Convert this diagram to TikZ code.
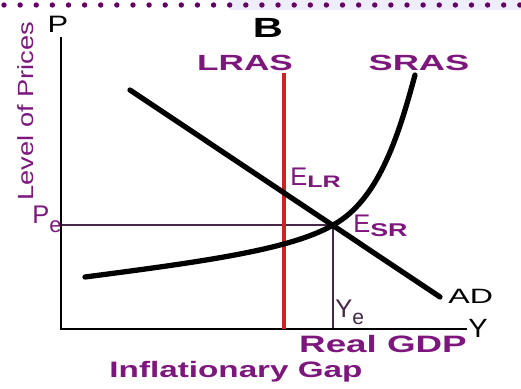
\documentclass[tikz,border=0pt]{standalone}
\usepackage{fontspec}
\setmainfont{Liberation Sans}
\usetikzlibrary{positioning,calc}
\definecolor{DotPurple}{RGB}{102,0,102}
\definecolor{LabelPurple}{RGB}{125,22,125}
\definecolor{GuideGray}{RGB}{70,40,70}
\definecolor{LrasRed}{RGB}{205,35,35}
\definecolor{BandLavender}{RGB}{238,238,250}

\begin{document}
\begin{tikzpicture}[x=0.02cm, y=-0.02cm,
    axis/.style={line width=1.7pt, black},
    curve/.style={line width=3pt, black, line cap=round},
    guide/.style={line width=0.8pt, GuideGray},
    lras/.style={line width=2.8pt, LrasRed},
    txt/.style={inner sep=0pt, anchor=base},
    tag/.style={txt, text=LabelPurple, font=\bfseries\fontsize{12.5}{12.5}\selectfont},
    eq/.style={txt, anchor=base west, text=LabelPurple, font=\fontsize{14.5}{14.5}\selectfont}
]
    \useasboundingbox (0,0) rectangle (521,389);
    \fill[BandLavender] (230,0) rectangle (521,10);
    \foreach \i in {0,...,32}
        \fill[DotPurple] (4+16.12*\i,5) circle (2.7);

    \coordinate (O) at (61,329);
    \coordinate (ytop) at (61,37);
    \coordinate (xend) at (467,329);
    \coordinate (lrasTop) at (284,73);
    \coordinate (lrasBot) at (284,329);
    \coordinate (adA) at (130,90);
    \coordinate (adB) at (440,297);
    \coordinate (srasA) at (85,277);
    \coordinate (Esr) at (333,225);
    \coordinate (srasB) at (415,75);

    \draw[guide] (O |- Esr) -- (Esr) -- (Esr |- O);
    \draw[axis] (ytop) -- (O) -- (xend);
    \draw[lras] (lrasTop) -- (lrasBot);
    \draw[curve] (srasA) .. controls (200,262) and (290,250) .. (Esr)
        .. controls (380,200) and (400,130) .. (srasB);
    \draw[curve] (adA) -- (adB);

    \node[txt, font=\bfseries\fontsize{15.8}{15.8}\selectfont] (B) at (268,37) {\scalebox{1.5}[1]{B}};
    \node[txt, font=\fontsize{13.5}{13.5}\selectfont] (P) at (58,32) {\scalebox{1.3}[1]{P}};
    \node[tag] (lrasLbl) at (245,70) {\scalebox{1.6}[1]{LRAS}};
    \node[tag] (srasLbl) at (419,70) {\scalebox{1.65}[1]{SRAS}};
    \node[txt, rotate=90, text=LabelPurple, font=\fontsize{12.5}{12.5}\selectfont] (lvl) at (33,111)
        {\scalebox{1.24}[1]{Level of Prices}};
    \node[eq] (Elr) at (290,185)
        {E\raisebox{-1.7pt}{\fontsize{9.5}{9.5}\selectfont\bfseries\scalebox{1.5}[1]{LR}}};
    \node[eq] (EsrLbl) at (353,232)
        {E\raisebox{-2.8pt}{\fontsize{10.5}{10.5}\selectfont\bfseries\scalebox{1.45}[1]{SR}}};
    \node[eq] (Pe) at (32,223)
        {P\raisebox{-5.5pt}{\fontsize{12.5}{12.5}\selectfont e}};
    \node[eq, text=GuideGray] (Ye) at (335,317)
        {Y\raisebox{-4.5pt}{\fontsize{12}{12}\selectfont e}};
    \node[txt, anchor=base west, font=\fontsize{11.8}{11.8}\selectfont] (AD) at (448,303) {\scalebox{1.55}[1]{AD}};
    \node[txt, font=\fontsize{15}{15}\selectfont] (Y) at (478,337) {\scalebox{1.1}[1]{Y}};
    \node[txt, text=LabelPurple, font=\bfseries\fontsize{13.5}{13.5}\selectfont] (gdp) at (383,352)
        {\scalebox{1.55}[1]{Real GDP}};
    \node[txt, text=LabelPurple, font=\bfseries\fontsize{12.7}{12.7}\selectfont] (gap) at (236,377)
        {\scalebox{1.49}[1]{Inflationary Gap}};
\end{tikzpicture}
\end{document}
